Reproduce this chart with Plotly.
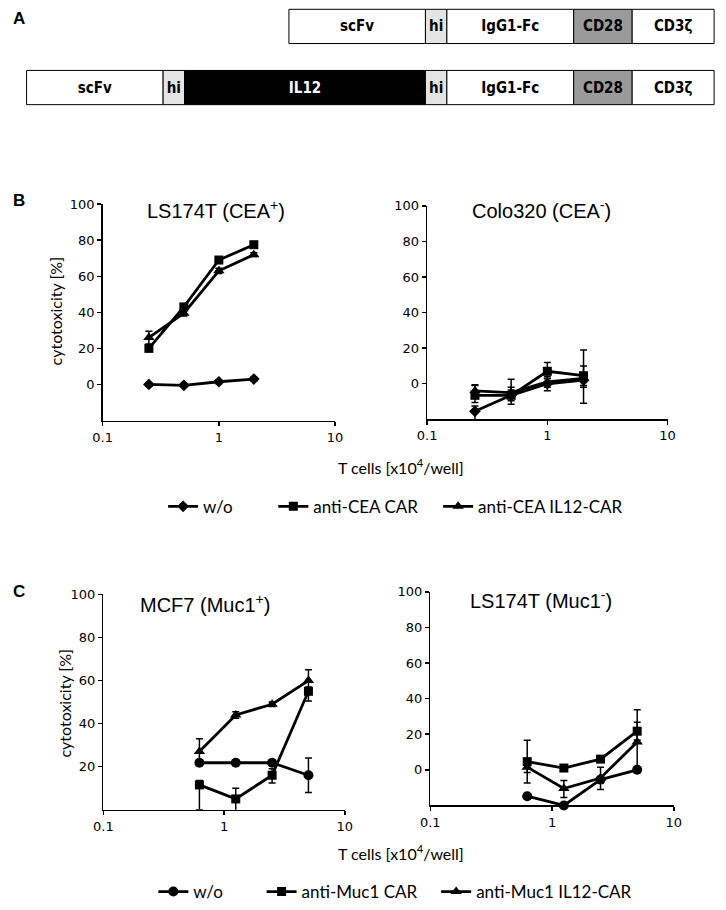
import plotly.graph_objects as go
import numpy as np

W, H = 726, 910

# ---------------- Panel A: construct schematic ----------------
car_segments = ["scFv", "hi", "IgG1-Fc", "CD28", "CD3ζ"]
car_lengths = [140, 22, 130, 60, 84]
il12car_segments = ["scFv", "hi", "IL12", "hi", "IgG1-Fc", "CD28", "CD3ζ"]
il12car_lengths = [140, 22, 247, 22, 130, 60, 84]
construct_names = ["CAR", "IL12-CAR"]
construct_end = 722

seg_color = {"scFv": "white", "hi": "#e4e4e4", "IgG1-Fc": "white",
             "CD28": "#9a9a9a", "CD3ζ": "white", "IL12": "black"}
seg_text_color = {"IL12": "white"}

# ---------------- Panel B: anti-CEA ----------------
x_cea = [0.25, 0.5, 1, 2]
cea_pos_wo = [0, -0.5, 1.5, 3]
cea_pos_wo_err = [1, 1, 1, 1]
cea_pos_car = [20, 43, 69, 77.5]
cea_pos_car_err = [1.5, 1.5, 1.5, 1]
cea_pos_il12 = [26, 39.5, 63, 72]
cea_pos_il12_err = [3.5, 1.5, 1.5, 1]

cea_neg_wo = [-15.5, -6.5, 0, 2]
cea_neg_wo_errp = [3, 3, 3, 3]
cea_neg_wo_errm = [11, 3, 4, 3]
cea_neg_car = [-6.5, -6.5, 7, 4.5]
cea_neg_car_errp = [6, 9, 5, 14.5]
cea_neg_car_errm = [4, 5, 4, 15.5]
cea_neg_il12 = [-4, -5, 1, 3]
cea_neg_il12_errp = [3, 3, 3, 7]
cea_neg_il12_errm = [3, 3, 3, 5]

# ---------------- Panel C: anti-Muc1 ----------------
x_muc = [0.625, 1.25, 2.5, 5]
muc_pos_wo = [21.8, 21.8, 21.8, 16]
muc_pos_wo_err = [1, 1, 1, 8]
muc_pos_car = [11.5, 5, 16, 55]
muc_pos_car_errp = [2, 5, 3, 2]
muc_pos_car_errm = [11.5, 6, 3.6, 4.5]
muc_pos_il12 = [27, 44, 49, 60]
muc_pos_il12_err = [6, 1.5, 1, 5]

muc_neg_wo = [-14.8, -20, -5.5, 0]
muc_neg_wo_err = [1, 1, 1, 1]
muc_neg_car = [4.6, 1, 6, 21.7]
muc_neg_car_errp = [12, 1, 1, 12]
muc_neg_car_errm = [12, 1, 1, 5]
muc_neg_il12 = [1.5, -10.5, -4.6, 15.7]
muc_neg_il12_errp = [3, 4.5, 6, 11]
muc_neg_il12_errm = [3, 5, 6.5, 15.7]

x_ticks = [0.1, 1, 10]
x_ticktext = ["0.1", "1", "10"]


def px(x):
    return x / W


def py(y):
    return 1 - y / H


fig = go.Figure()

# ---- schematic as horizontal bars
for name, segs, lens in [("CAR", car_segments, car_lengths),
                         ("IL12-CAR", il12car_segments, il12car_lengths)]:
    starts = construct_end - np.sum(lens) + np.concatenate([[0], np.cumsum(lens)[:-1]])
    fig.add_trace(go.Bar(
        orientation="h", y=[name] * len(segs), x=lens, base=starts.tolist(),
        width=0.56, text=segs, textposition="inside", insidetextanchor="middle",
        textangle=0, constraintext="none",
        textfont=dict(family="DejaVu Sans Condensed, Liberation Sans Narrow, sans-serif",
                      size=15, weight="bold",
                      color=[seg_text_color.get(s, "black") for s in segs]),
        marker=dict(color=[seg_color[s] for s in segs], line=dict(color="black", width=1)),
        xaxis="x5", yaxis="y5", hoverinfo="skip", showlegend=False,
    ))

LINE = dict(color="black", width=2.8)


def add_series(x, y, ep, em, symbol, size, xa, ya, name, legend, showlegend):
    fig.add_trace(go.Scatter(
        x=x, y=y, mode="lines+markers", name=name,
        line=LINE, marker=dict(symbol=symbol, size=size, color="black"),
        error_y=dict(type="data", array=ep, arrayminus=em, color="black",
                     thickness=1.5, width=3.5, visible=True),
        xaxis=xa, yaxis=ya, cliponaxis=False, legend=legend, showlegend=showlegend,
    ))


# Panel B left
add_series(x_cea, cea_pos_wo, cea_pos_wo_err, cea_pos_wo_err, "diamond", 9, "x", "y", "w/o", "legend", True)
add_series(x_cea, cea_pos_car, cea_pos_car_err, cea_pos_car_err, "square", 9, "x", "y", "anti-CEA CAR", "legend2", True)
add_series(x_cea, cea_pos_il12, cea_pos_il12_err, cea_pos_il12_err, "triangle-up", 10, "x", "y", "anti-CEA IL12-CAR", "legend3", True)
# Panel B right
add_series(x_cea, cea_neg_wo, cea_neg_wo_errp, cea_neg_wo_errm, "diamond", 9, "x2", "y2", "w/o", "legend", False)
add_series(x_cea, cea_neg_car, cea_neg_car_errp, cea_neg_car_errm, "square", 9, "x2", "y2", "anti-CEA CAR", "legend2", False)
add_series(x_cea, cea_neg_il12, cea_neg_il12_errp, cea_neg_il12_errm, "triangle-up", 10, "x2", "y2", "anti-CEA IL12-CAR", "legend3", False)
# Panel C left
add_series(x_muc, muc_pos_wo, muc_pos_wo_err, muc_pos_wo_err, "circle", 10, "x3", "y3", "w/o", "legend4", True)
add_series(x_muc, muc_pos_car, muc_pos_car_errp, muc_pos_car_errm, "square", 9, "x3", "y3", "anti-Muc1 CAR", "legend5", True)
add_series(x_muc, muc_pos_il12, muc_pos_il12_err, muc_pos_il12_err, "triangle-up", 10, "x3", "y3", "anti-Muc1 IL12-CAR", "legend6", True)
# Panel C right
add_series(x_muc, muc_neg_wo, muc_neg_wo_err, muc_neg_wo_err, "circle", 10, "x4", "y4", "w/o", "legend4", False)
add_series(x_muc, muc_neg_car, muc_neg_car_errp, muc_neg_car_errm, "square", 9, "x4", "y4", "anti-Muc1 CAR", "legend5", False)
add_series(x_muc, muc_neg_il12, muc_neg_il12_errp, muc_neg_il12_errm, "triangle-up", 10, "x4", "y4", "anti-Muc1 IL12-CAR", "legend6", False)

TICKFONT = dict(family="DejaVu Sans, Verdana, sans-serif", size=13, color="black")


def xax(dom, anchor):
    return dict(domain=[px(dom[0]), px(dom[1])], anchor=anchor, type="log", range=[-1, 1],
                tickvals=x_ticks, ticktext=x_ticktext, showline=True, linecolor="black",
                linewidth=1.5, ticks="outside", ticklen=4, tickwidth=1.5, tickcolor="black",
                showgrid=False, zeroline=False, tickfont=TICKFONT, fixedrange=True)


def yax(dom, anchor, rng, tv):
    return dict(domain=[py(dom[1]), py(dom[0])], anchor=anchor, range=rng,
                tickvals=tv, showline=True, linecolor="black", linewidth=1.5,
                ticks="outside", ticklen=4, tickwidth=1.5, tickcolor="black",
                showgrid=False, zeroline=False, tickfont=TICKFONT, fixedrange=True)


yt_full = [0, 20, 40, 60, 80, 100]

LEGFONT = dict(family="Lato, sans-serif", size=17, color="black")


def leg(xp, yp):
    return dict(x=px(xp), y=py(yp), xanchor="left", yanchor="middle", orientation="v",
                bgcolor="rgba(0,0,0,0)", borderwidth=0, font=LEGFONT, itemwidth=30,
                itemclick=False, itemdoubleclick=False)


fig.update_layout(
    width=W, height=H, margin=dict(l=0, r=0, t=0, b=0),
    paper_bgcolor="white", plot_bgcolor="white", showlegend=True,
    xaxis=xax((95, 333.3), "y"),
    yaxis=yax((200, 419.5), "x", [-20, 100], yt_full),
    xaxis2=xax((427.7, 674.3), "y2"),
    yaxis2=yax((201.7, 418.3), "x2", [-20, 100], yt_full),
    xaxis3=xax((95.7, 343.3), "y3"),
    yaxis3=yax((596, 814.3), "x3", [0, 100], [20, 40, 60, 80, 100]),
    xaxis4=xax((431, 680.7), "y4"),
    yaxis4=yax((593.3, 810), "x4", [-20, 100], yt_full),
    xaxis5=dict(domain=[0, 1], anchor="y5", range=[0, W], autorange=False, visible=False, fixedrange=True),
    yaxis5=dict(domain=[py(106.5), py(1.1)], anchor="x5", type="category",
                categoryorder="array", categoryarray=construct_names[::-1],
                range=[-0.4, 1.3], autorange=False, visible=False, fixedrange=True),
    barmode="overlay",
    legend=leg(157, 507), legend2=leg(270, 507), legend3=leg(439, 507),
    legend4=leg(147, 898), legend5=leg(258, 898), legend6=leg(437, 898),
)

ann = []
TITLEFONT = dict(family="Liberation Sans, Arial, sans-serif", size=20, color="black")
for text, x, y in [("LS174T (CEA<sup>+</sup>)", 211, 205), ("Colo320 (CEA<sup>-</sup>)", 545, 205),
                   ("MCF7 (Muc1<sup>+</sup>)", 200, 605), ("LS174T (Muc1<sup>-</sup>)", 544, 601)]:
    ann.append(dict(text=text, x=px(x), y=py(y), xref="paper", yref="paper",
                    showarrow=False, font=TITLEFONT, xanchor="center", yanchor="middle"))
LABFONT = dict(family="Lato, sans-serif", size=16, color="black")
for x, y in [(47, 308), (56, 706)]:
    ann.append(dict(text="cytotoxicity [%]", x=px(x), y=py(y), xref="paper", yref="paper",
                    showarrow=False, font=LABFONT, textangle=-90, xanchor="center", yanchor="middle"))
for y in [466, 858]:
    ann.append(dict(text="T cells [x10<sup>4</sup>/well]", x=px(401), y=py(y), xref="paper", yref="paper",
                    showarrow=False, font=LABFONT, xanchor="center", yanchor="middle"))
PANELFONT = dict(family="Liberation Sans, Arial, sans-serif", size=17, color="black")
for t, x, y in [("<b>A</b>", 9, 12), ("<b>B</b>", 9, 196), ("<b>C</b>", 9, 593)]:
    ann.append(dict(text=t, x=px(x), y=py(y), xref="paper", yref="paper",
                    showarrow=False, font=PANELFONT, xanchor="center", yanchor="middle"))
fig.update_layout(annotations=ann)

fig.write_html(
    "out.html",
    config={"displayModeBar": False, "staticPlot": True},
    post_script="document.documentElement.style.margin='0';document.body.style.margin='0';document.body.style.padding='0';",
)
